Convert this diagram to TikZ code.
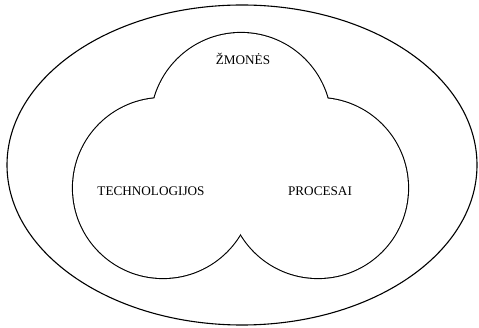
\documentclass[tikz,border=0pt]{standalone}
\usepackage{fontspec}
\setmainfont{Liberation Serif}
\begin{document}
\begin{tikzpicture}[x=1pt,y=1pt]
    \tikzset{lbl/.style={font=\fontsize{13.2}{15}\selectfont, inner sep=0pt}}
    \useasboundingbox (0,0) rectangle (479,-328);
    \draw [draw=black,line width=1.1pt] (242,-165) ellipse (235pt and 160pt);
    % outline of the three circles: thick strokes, then white fill over the inner half
    \foreach \p in {(241,-123),(163,-188),(318,-188)}
        \draw [draw=black,line width=2.2pt] \p circle (90pt);
    \foreach \p in {(241,-123),(163,-188),(318,-188)}
        \fill [white] \p circle (90pt);
    \node[lbl] (zmones) at (243,-59) {ŽMONĖS};
    \node[lbl] (tech) at (151,-191) {TECHNOLOGIJOS};
    \node[lbl] (proc) at (320,-191) {PROCESAI};
\end{tikzpicture}
\end{document}
